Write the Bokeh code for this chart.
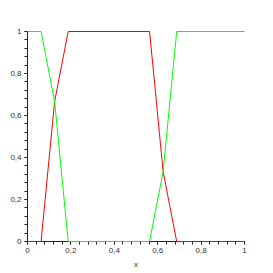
from bokeh.plotting import figure
from bokeh.models import Range1d, FixedTicker
from bokeh.embed import file_html
from bokeh.resources import INLINE

# data
x_pts = [0.0, 0.0625, 0.125, 0.1875, 0.5625, 0.625, 0.6875, 1.0]
red_y = [0.0, 0.0, 0.667, 1.0, 1.0, 0.333, 0.0, 0.0]
green_y = [1.0, 1.0, 0.667, 0.0, 0.0, 0.333, 1.0, 1.0]

major_ticks = [0, 0.2, 0.4, 0.6, 0.8, 1]
tick_labels = ["0", "0,2", "0,4", "0,6", "0,8", "1"]
minor_ticks = [i / 25 for i in range(26)]

p = figure(frame_width=217, frame_height=210, output_backend="svg",
           toolbar_location=None, x_range=Range1d(0, 1), y_range=Range1d(0, 1),
           min_border_left=27, min_border_right=20, min_border_top=31,
           min_border_bottom=24)
p.outline_line_color = None
p.grid.visible = False
p.background_fill_color = "white"
p.border_fill_color = "white"

for ax in (p.xaxis[0], p.yaxis[0]):
    ax.ticker = FixedTicker(ticks=major_ticks, minor_ticks=minor_ticks)
    ax.major_label_overrides = {t: l for t, l in zip(major_ticks, tick_labels)}
    ax.major_tick_in = 0
    ax.major_tick_out = 3
    ax.minor_tick_in = 0
    ax.minor_tick_out = 3
    ax.axis_line_color = "#222222"
    ax.major_tick_line_color = "#222222"
    ax.minor_tick_line_color = "#222222"
    ax.major_label_text_font = "Liberation Sans"
    ax.major_label_text_font_size = "8px"
    ax.major_label_text_color = "#333333"
    ax.major_label_standoff = 3
    ax.axis_label_text_font = "Liberation Sans"
    ax.axis_label_text_font_size = "8px"
    ax.axis_label_text_font_style = "normal"
    ax.axis_label_text_color = "#333333"

p.xaxis.axis_label = "x"
p.xaxis.axis_label_standoff = 4

r1 = p.line(x_pts, red_y, line_color="#ff0000", line_width=1)
r2 = p.line(x_pts, green_y, line_color="#00ff00", line_width=1)
r1.level = "overlay"
r2.level = "overlay"

open("out.html", "w").write(file_html(p, INLINE))
